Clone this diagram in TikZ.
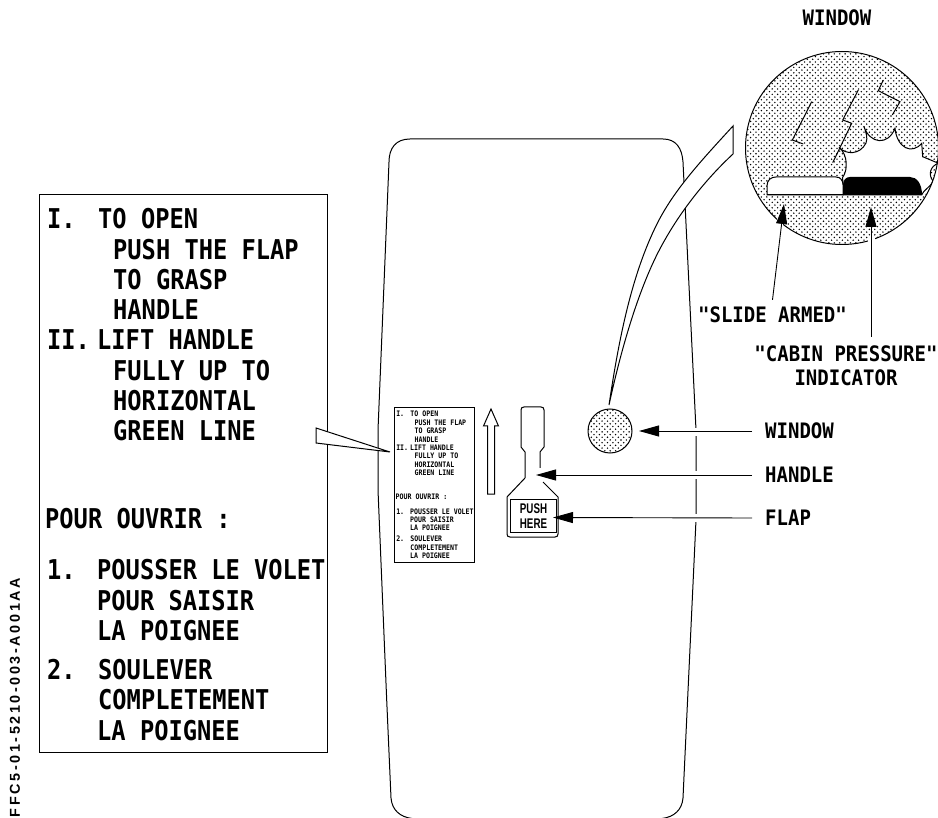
\documentclass[tikz,border=0pt]{standalone}
\usepackage{fontspec}
\usepackage{graphicx}
\newfontfamily\lblfont{DejaVu Sans Mono}
\setmainfont{Liberation Sans}
\usetikzlibrary{arrows.meta,patterns}
\pgfdeclarepatternformonly{mydots}{\pgfqpoint{-1pt}{-1pt}}{\pgfqpoint{6pt}{6pt}}{\pgfqpoint{5.4pt}{5.4pt}}{%
  \pgfpathcircle{\pgfqpoint{0pt}{0pt}}{.8pt}%
  \pgfpathcircle{\pgfqpoint{2.7pt}{2.7pt}}{.8pt}%
  \pgfusepath{fill}}
\newcommand\bigT[1]{\scalebox{1}[1.15]{\fontsize{23.7}{24}\lblfont\bfseries #1}}
\newcommand\lab[1]{\scalebox{1}[1.12]{\fontsize{19}{20}\lblfont\bfseries #1}}
\tikzset{
  line/.style={line width=1pt,black},
  ptext/.style={anchor=base west,inner sep=0pt},
  lbl/.style={inner sep=0pt,text height=15pt,text depth=0pt},
  leader/.style={line width=.9pt,-{Triangle[length=20pt,width=11pt]}},
  halo/.style={white,line width=3pt},
}
\newcommand\panel[1]{%
  \node[draw,line width=1pt,anchor=north west,minimum width=288pt,minimum height=558pt,inner sep=0pt] (#1box) at (0,0) {};
  \node[ptext] (#1a) at (8,35) {\bigT{I.}};
  \node[ptext] (#1b) at (59,35) {\bigT{TO OPEN}};
  \node[ptext] (#1c) at (74,66) {\bigT{PUSH THE FLAP}};
  \node[ptext] (#1d) at (74,96) {\bigT{TO GRASP}};
  \node[ptext] (#1e) at (74,126) {\bigT{HANDLE}};
  \node[ptext] (#1f) at (8,156) {\bigT{II.}};
  \node[ptext] (#1g) at (58,156) {\bigT{LIFT HANDLE}};
  \node[ptext] (#1h) at (74,187) {\bigT{FULLY UP TO}};
  \node[ptext] (#1i) at (74,217) {\bigT{HORIZONTAL}};
  \node[ptext] (#1j) at (74,247) {\bigT{GREEN LINE}};
  \node[ptext] (#1k) at (6,334) {\bigT{POUR OUVRIR :}};
  \node[ptext] (#1l) at (8,385) {\bigT{1.}};
  \node[ptext] (#1m) at (58,385) {\bigT{POUSSER LE VOLET}};
  \node[ptext] (#1n) at (58,416) {\bigT{POUR SAISIR}};
  \node[ptext] (#1o) at (58,446) {\bigT{LA POIGNEE}};
  \node[ptext] (#1p) at (8,485) {\bigT{2.}};
  \node[ptext] (#1q) at (59,485) {\bigT{SOULEVER}};
  \node[ptext] (#1r) at (59,515) {\bigT{COMPLETEMENT}};
  \node[ptext] (#1s) at (58,546) {\bigT{LA POIGNEE}};
}
\begin{document}
\begin{tikzpicture}[x=1pt,y=-1pt]
\useasboundingbox (0,0) rectangle (938,818);

% door outline
\draw[line] (410,139) .. controls (396,139) and (389,148) .. (389,162)
  -- (378,430) -- (378,490) -- (386.7,700) -- (391,798)
  .. controls (392,810) and (400,817) .. (412,818.5) -- (662,818.5)
  .. controls (674,817) and (682,810) .. (683,798)
  -- (696,520) -- (696,430) -- (683,162)
  .. controls (682,148) and (676,139) .. (663,139) -- cycle;
\foreach \yy in {432,475,518} \draw[halo] (696,\yy-4) -- (696,\yy+4);

% big window
\coordinate (bc) at (842,148);
\fill[pattern=mydots] (bc) circle (96.5);
\begin{scope}
  \clip (bc) circle (96.5);
  \draw[line,fill=white] (842.7,177.3) .. controls (848,170) and (848,155) .. (839,147.3)
    .. controls (846,155) and (860,155) .. (866,143)
    .. controls (868,138) and (866,132) .. (864,126.7)
    .. controls (870,144) and (888,146) .. (895,128.3)
    .. controls (897,148) and (912,155) .. (921.7,143.3)
    -- (922.7,156.7) -- (938.5,163.3)
    .. controls (930,166) and (928,175) .. (933,181)
    .. controls (930,188) and (925,188) .. (921.7,195)
    -- (843,195) -- cycle;
\end{scope}
\draw[line] (bc) circle (96.5);
\draw[line,fill=white] (767,195) -- (767,186) .. controls (767,180) and (771,177) .. (776,177)
  -- (836,177) .. controls (840,177) and (843,180) .. (843,185) -- (843,195) -- cycle;
\fill[black] (843,195) -- (843,185) .. controls (843,180) and (846,177) .. (850,177)
  -- (910,177) .. controls (917,177) and (922,184) .. (922,195) -- cycle;
\draw[line] (767,195) -- (922,195);
\draw[line] (811.7,101.7) -- (792.3,140) -- (803.3,144);
\draw[line] (858.3,90) -- (842.7,120) -- (851.7,123.3) -- (832.7,162.7);
\draw[line] (883.3,80) -- (878.3,90.7) -- (900,101.7) -- (892.3,115);

% band from small window to big window
\draw[line,fill=white] (733,126) .. controls (700,162) and (672,192) .. (655,228)
  .. controls (630,280) and (618,345) .. (609,405)
  .. controls (622,345) and (640,285) .. (662,245)
  .. controls (680,212) and (705,180) .. (733,154) -- cycle;

% small window
\node[circle,draw,line width=1pt,pattern=mydots,minimum size=44pt,inner sep=0pt] (win) at (610,431) {};

% panel and its enlargement
\begin{scope}[shift={(39,194)}]
  \panel{B}
\end{scope}
\begin{scope}[shift={(394,407)},scale=.278,transform shape]
  \panel{S}
\end{scope}
\draw[line,fill=white] (316,428) -- (390,452) -- (316,443) -- cycle;

% up arrow
\draw[line] (487.5,494) -- (487.5,426) -- (483.5,426) -- (491,409) -- (498.5,426) -- (494.5,426) -- (494.5,494) -- cycle;

% handle and flap
\draw[line] (525,478) -- (525,452) -- (521,447) -- (521,410) .. controls (521,408) and (522,407) .. (524,407)
  -- (541,407) .. controls (543,407) and (544,408) .. (544,410) -- (544,447) -- (540,452) -- (540,468);
\draw[line] (525,478) -- (507,497) -- (507,534) .. controls (507,536) and (508,537) .. (510,537)
  -- (555,537) .. controls (557,537) and (558,536) .. (558,534) -- (558,497) -- (543,482);
\node[draw,line width=1pt,anchor=north west,minimum width=46pt,minimum height=33pt,inner sep=0pt,
  align=center,font=\fontsize{14}{15}\selectfont\bfseries] (flap) at (510,499)
  {\scalebox{.7}[1]{PUSH}\\[.5pt]\scalebox{.7}[1]{HERE}};

% labels
\node[lbl,inner ysep=0pt] (ltop) at (837,18) {\lab{WINDOW}};
\node[lbl,inner ysep=7.5pt] (lslide) at (772.5,315) {\lab{"SLIDE ARMED"}};
\node[lbl,inner ysep=9.5pt] (lcabin) at (846,354) {\lab{"CABIN PRESSURE"}};
\node[lbl] (lind) at (846,378) {\lab{INDICATOR}};
\node[lbl,anchor=west,inner xsep=13pt] (lwin) at (752,431) {\lab{WINDOW}};
\node[lbl,anchor=west,inner xsep=13pt] (lhan) at (752,475) {\lab{HANDLE}};
\node[lbl,anchor=west,inner xsep=13pt] (lfla) at (752,518) {\lab{FLAP}};

% leaders
\coordinate (tslide) at (784,204);
\coordinate (tcabin) at (871,207);
\coordinate (twin) at (639,431);
\coordinate (than) at (536,475);
\coordinate (tfla) at (553,517.5);
\draw[halo,line width=7pt] (781,217) -- (778,231);
\draw[halo,line width=7pt] (871,236) -- (871,245);
\draw[leader] (lslide.north) -- (tslide);
\draw[leader] ([xshift=25pt]lcabin.north) -- (tcabin);
\draw[leader] (lwin.west) -- (twin);
\draw[leader] (lhan.west) -- (than);
\draw[leader] (lfla.west) -- (tfla);

% reference code
\node[rotate=90,inner sep=0pt] (code) at (15,697.5)
  {\resizebox{239pt}{10pt}{\addfontfeatures{LetterSpace=18}\bfseries FFC5-01-5210-003-A001AA}};
\end{tikzpicture}
\end{document}
